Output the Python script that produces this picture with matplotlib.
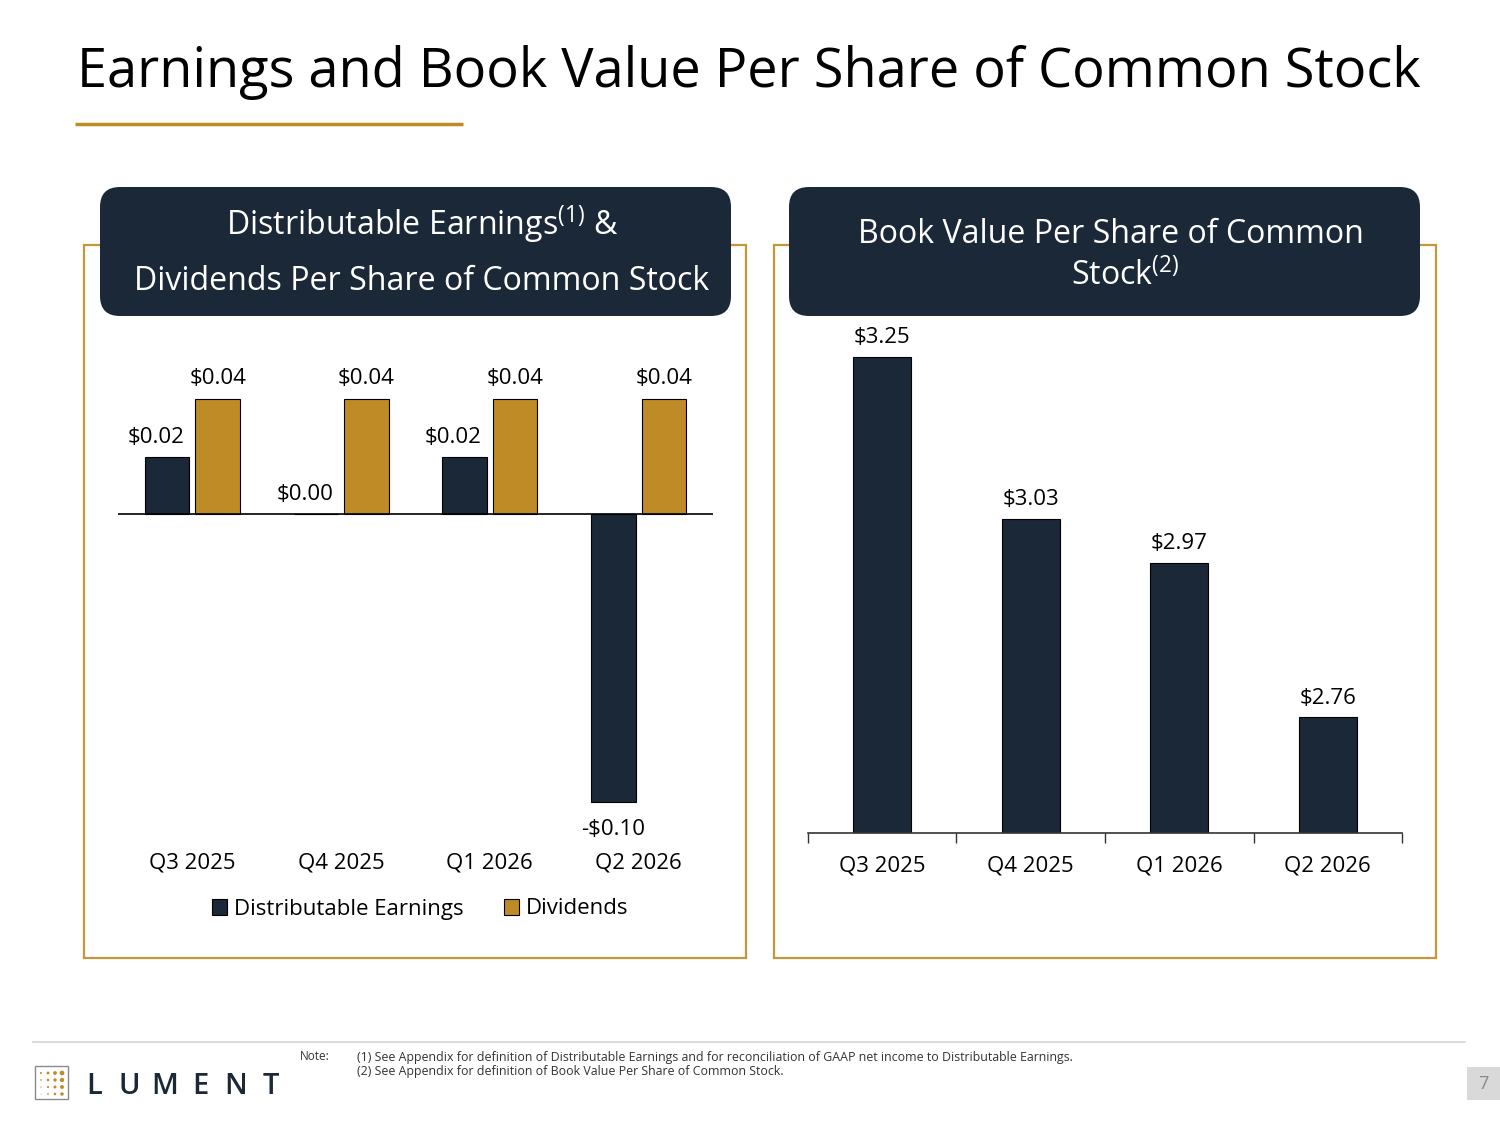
import matplotlib.pyplot as plt
from matplotlib.patches import FancyBboxPatch, Rectangle, Circle
import numpy as np

plt.rcParams['font.family'] = ['Open Sans', 'DejaVu Sans']

# data
quarters = ["Q3 2025", "Q4 2025", "Q1 2026", "Q2 2026"]
dist_earnings = [0.02, 0.00, 0.02, -0.10]
dividends = [0.04, 0.04, 0.04, 0.04]
book_value = [3.25, 3.03, 2.97, 2.76]

NAVY = '#1a2837'
GOLD = '#bf8b26'
BORDER = '#c4973a'
FS = 16

W, H = 1500, 1125
fig = plt.figure(figsize=(15, 11.25), dpi=100)
renderer = fig.canvas.get_renderer()


def box(x0, y0, x1, y1):
    # pixel box (top-left origin) -> figure fraction rect
    return [x0 / W, 1 - y1 / H, (x1 - x0) / W, (y1 - y0) / H]


def fit(t, target):
    w = t.get_window_extent(renderer).width
    t.set_fontsize(t.get_fontsize() * target / w)


def money(v):
    if v < 0:
        return "-$%.2f" % abs(v)
    return "$%.2f" % v


# background layer in pixel coordinates
bg = fig.add_axes([0, 0, 1, 1], zorder=0)
bg.set_xlim(0, W)
bg.set_ylim(H, 0)
bg.axis('off')

title = bg.text(77, 87, "Earnings and Book Value Per Share of Common Stock",
                fontsize=40, color='black', va='baseline', ha='left')
fit(title, 1341)
bg.plot([75, 463], [124, 124], color=GOLD, lw=2.5, solid_capstyle='butt')

# panel frames
for x0 in [84, 774]:
    bg.add_patch(Rectangle((x0, 245), 662, 713, fill=False, edgecolor=BORDER, lw=1.6))
for x0 in [100, 789]:
    bg.add_patch(FancyBboxPatch((x0 + 20, 187 + 20), 631 - 40, 129 - 40,
                                boxstyle="round,pad=20", facecolor=NAVY, edgecolor='none'))

h2 = bg.text(421.5, 290, "Dividends Per Share of Common Stock", color='white',
             fontsize=20, ha='center', va='baseline')
fit(h2, 575)
hs = h2.get_fontsize()
bg.text(422, 235, r"Distributable Earnings$^{\mathregular{(1)}}$ &", color='white',
        fontsize=hs, ha='center', va='baseline')
bg.text(1111, 243, "Book Value Per Share of Common", color='white',
        fontsize=hs, ha='center', va='baseline')
bg.text(1125, 285, r"Stock$^{\mathregular{(2)}}$", color='white',
        fontsize=hs, ha='center', va='baseline')

# footer
bg.plot([33, 1465], [1042, 1042], color='#d4d4d4', lw=1.2)
bg.add_patch(Rectangle((35, 1066), 33, 33, fill=False, edgecolor='#8a8a8a', lw=1))
for r in range(4):
    for c in range(4):
        size = 1.0 + 0.45 * c - 0.2 * r
        if size > 0.3:
            bg.add_patch(Circle((41 + c * 7, 1073 + r * 7), size, color=GOLD, lw=0))
for i, ch in enumerate("LUMENT"):
    bg.text(94 + i * 35.4, 1094, ch, fontsize=21, color=NAVY, ha='center',
            va='baseline', weight='semibold')

bg.text(300, 1057, "Note:", fontsize=8.5, color='#333333', va='center', ha='left')
n1 = bg.text(357, 1057, "(1) See Appendix for definition of Distributable Earnings and for "
             "reconciliation of GAAP net income to Distributable Earnings.",
             fontsize=8, color='#333333', va='center', ha='left')
fit(n1, 718)
bg.text(357, 1071, "(2) See Appendix for definition of Book Value Per Share of Common Stock.",
        fontsize=n1.get_fontsize(), color='#333333', va='center', ha='left')
bg.add_patch(Rectangle((1467, 1067), 33, 33, facecolor='#d9d9d9', edgecolor='none'))
bg.text(1483, 1084, "7", fontsize=13, color='#8a8a8a', ha='center', va='center')

x = np.arange(len(quarters))

# left chart: distributable earnings and dividends
ax1 = fig.add_axes(box(118, 341.5, 713, 830.3), zorder=1)
ax1.patch.set_alpha(0)
w = 0.30
b1 = ax1.bar(x - 0.17, dist_earnings, w, color=NAVY, edgecolor='black', lw=0.8,
             label="Distributable Earnings")
b2 = ax1.bar(x + 0.17, dividends, w, color=GOLD, edgecolor='black', lw=0.8,
             label="Dividends")
ax1.axhline(0, color='black', lw=1.2)
ax1.set_xlim(-0.5, 3.5)
ax1.set_ylim(-0.11, 0.06)
for rect, v in zip(b1, dist_earnings):
    xc = rect.get_x() + rect.get_width() / 2
    if v < 0:
        ax1.annotate(money(v), (xc, v), xytext=(0, -20), textcoords='offset points',
                     ha='center', va='center', fontsize=FS)
    else:
        ax1.annotate(money(v), (xc, v), xytext=(-8, 14), textcoords='offset points',
                     ha='center', va='center', fontsize=FS)
for rect, v in zip(b2, dividends):
    xc = rect.get_x() + rect.get_width() / 2
    ax1.annotate(money(v), (xc, v), xytext=(0, 15), textcoords='offset points',
                 ha='center', va='center', fontsize=FS)
ax1.set_xticks(x)
ax1.set_xticklabels(quarters, fontsize=FS)
ax1.tick_params(axis='x', length=0, pad=16)
ax1.set_yticks([])
for s in ax1.spines.values():
    s.set_visible(False)

fig.legend(handles=[b1, b2], loc='center', bbox_to_anchor=(420 / W, 1 - 909 / H),
           ncol=2, frameon=False, fontsize=FS, handlelength=0.7, handleheight=0.7,
           handletextpad=0.3, columnspacing=1.8)

# right chart: book value per share
ax2 = fig.add_axes(box(808, 320, 1402, 833), zorder=1)
ax2.patch.set_alpha(0)
b3 = ax2.bar(x, book_value, 0.39, color=NAVY, edgecolor='black', lw=0.8)
ax2.set_xlim(-0.5, 3.5)
ax2.set_ylim(2.603, 3.3)
for rect, v in zip(b3, book_value):
    xc = rect.get_x() + rect.get_width() / 2
    ax2.annotate(money(v), (xc, v), xytext=(0, 14), textcoords='offset points',
                 ha='center', va='center', fontsize=FS)
ax2.set_xticks(x)
ax2.set_xticklabels(quarters, fontsize=FS)
ax2.set_xticks(np.arange(-0.5, 4, 1), minor=True)
ax2.tick_params(axis='x', which='major', length=0, pad=16)
ax2.tick_params(axis='x', which='minor', length=7, width=1, color='#333333')
ax2.set_yticks([])
for k in ['left', 'right', 'top']:
    ax2.spines[k].set_visible(False)
ax2.spines['bottom'].set_color('#333333')
ax2.spines['bottom'].set_linewidth(1.2)

fig.savefig("out.png", dpi=100, facecolor='white')
